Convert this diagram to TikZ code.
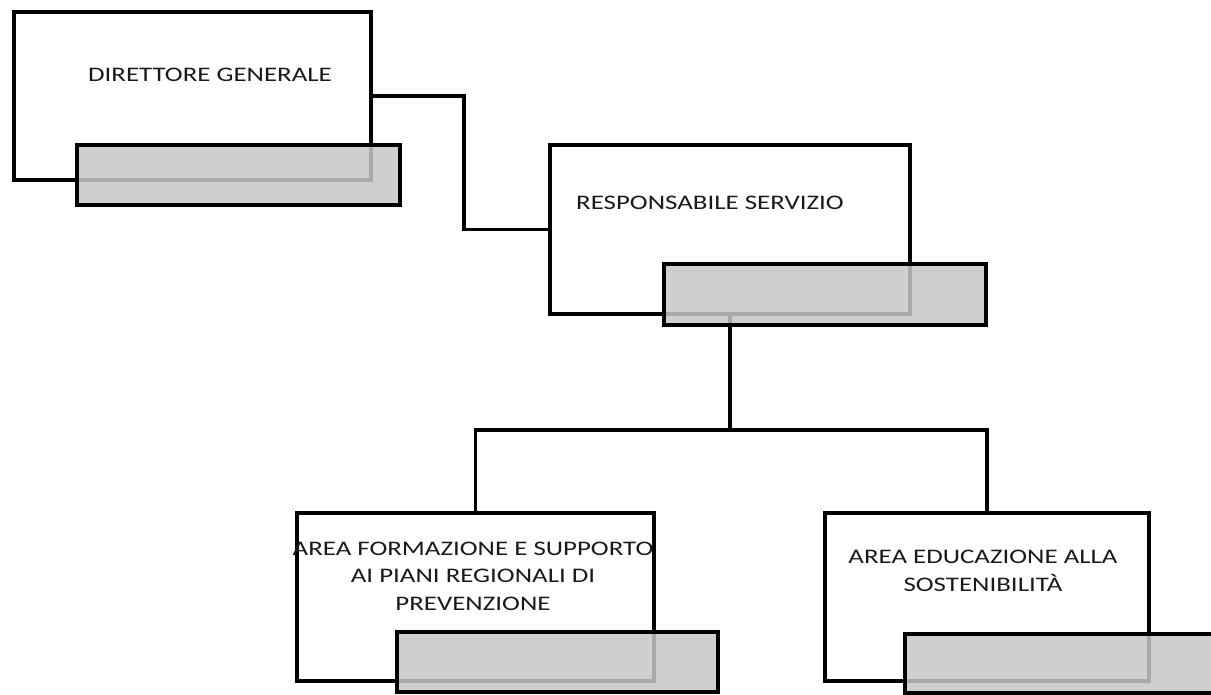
\documentclass[tikz,border=0pt]{standalone}
\usepackage{fontspec}
\setmainfont{Carlito}
\usetikzlibrary{positioning}
\tikzset{
  unitbox/.style={draw, line width=4pt, fill=white, anchor=north west, inner sep=0pt},
  unitbar/.style={draw, line width=4pt, fill=black!22, fill opacity=0.85, draw opacity=1, anchor=north west, inner sep=0pt},
  link/.style={draw, line width=3.5pt},
  unitlabel/.style={align=center, text=black!90, font=\fontsize{20.7}{27.5}\selectfont, xscale=1.3, transform shape}
}
\begin{document}
\begin{tikzpicture}[x=1pt, y=-1pt]
\useasboundingbox (0,0) rectangle (1211,694);
% boxes
\node[unitbox, minimum width=357pt, minimum height=168pt] (dg) at (12,10) {};
\node[unitbox, minimum width=360pt, minimum height=169pt] (rs) at (548,143) {};
\node[unitbox, minimum width=357pt, minimum height=168pt] (afs) at (295,511) {};
\node[unitbox, minimum width=324pt, minimum height=168pt] (aes) at (823,511) {};
% connectors
\draw[link] (dg.east) -- ++(91,0) |- (rs.west);
\draw[link] (rs.south) -- ++(0,114) coordinate (bus);
\draw[link] (afs.north) |- (bus) -| (aes.north);
% grey bars
\node[unitbar, minimum width=323pt, minimum height=60pt] (dgbar) at (75,143) {};
\node[unitbar, minimum width=322pt, minimum height=61pt] (rsbar) at (662,262) {};
\node[unitbar, minimum width=321pt, minimum height=60pt] (afsbar) at (395,630) {};
\node[unitbar, minimum width=327pt, minimum height=59pt] (aesbar) at (903,632) {};
% labels
\node[unitlabel] (dglabel) at (210,75) {DIRETTORE GENERALE};
\node[unitlabel] (rslabel) at (710,203) {RESPONSABILE SERVIZIO};
\node[unitlabel] (afslabel) at (473,576) {AREA FORMAZIONE E SUPPORTO\\AI PIANI REGIONALI DI\\PREVENZIONE};
\node[unitlabel] (aeslabel) at (983,571) {AREA EDUCAZIONE ALLA\\SOSTENIBILITÀ};
\end{tikzpicture}
\end{document}
